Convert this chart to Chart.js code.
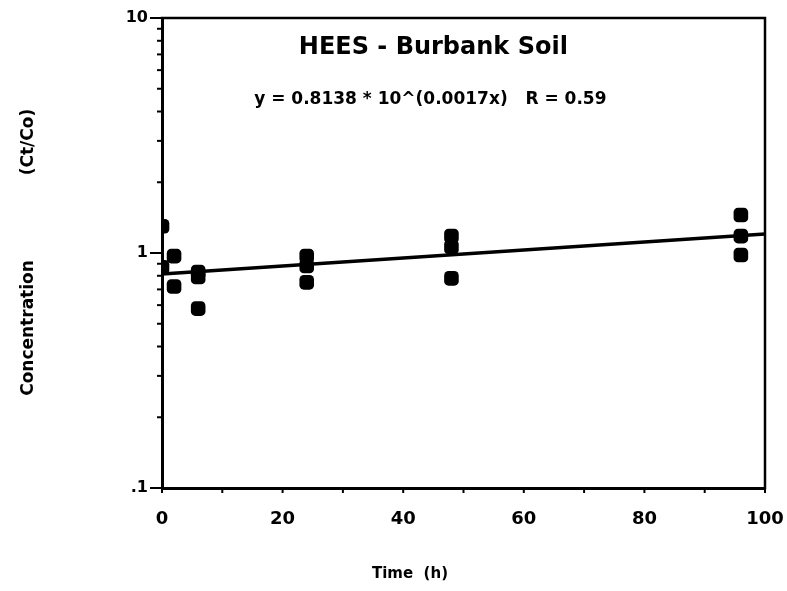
<!DOCTYPE html>
<html>
<head>
<meta charset="utf-8">
<script src="https://cdn.jsdelivr.net/npm/chart.js@4/dist/chart.umd.min.js"></script>
<style>
  html, body { margin: 0; padding: 0; background: #fff; }
  #wrap { width: 787px; height: 591px; }
</style>
</head>
<body>
<div id="wrap"><canvas id="c" width="787" height="591"></canvas></div>
<script>
// Sampling times (h) and measured relative concentrations Ct/Co
const timeHours = [0, 0, 2, 2, 6, 6, 6, 24, 24, 24, 48, 48, 48, 96, 96, 96];
const concRatio = [1.30, 0.87, 0.97, 0.72, 0.83, 0.79, 0.58, 0.97, 0.88, 0.75, 1.18, 1.06, 0.78, 1.45, 1.18, 0.98];

// Exponential fit y = a * 10^(b x)
const fitA = 0.8138;
const fitB = 0.0017;
const fitR = 0.59;
const fitRange = [0, 100];

// Axis tick values and labels
const yTickValues = [0.1, 0.2, 0.3, 0.4, 0.5, 0.6, 0.7, 0.8, 0.9, 1, 2, 3, 4, 5, 6, 7, 8, 9, 10];
const yTickLabels = { 0.1: '.1', 1: '1', 10: '10' };
const xLabelStep = 20;

const chartTitle = 'HEES - Burbank Soil';
const fitText = 'y = ' + fitA.toFixed(4) + ' * 10^(' + fitB.toFixed(4) + 'x)   R = ' + fitR.toFixed(2);
const xTitle = 'Time  (h)';
const yTitleMain = 'Concentration';
const yTitleUnit = '(Ct/Co)';

const FONT = '"DejaVu Sans", Verdana, sans-serif';

const measured = timeHours.map((t, i) => ({ x: t, y: concRatio[i] }));
const fitLine = fitRange.map(t => ({ x: t, y: fitA * Math.pow(10, fitB * t) }));

// Frame, tick marks, axis titles and in-plot annotation
const framePlugin = {
  id: 'frame',
  afterDraw(chart) {
    const { ctx, chartArea: a, scales } = chart;
    ctx.save();
    ctx.strokeStyle = '#000';
    ctx.lineCap = 'square';
    ctx.lineWidth = 2.5;
    ctx.beginPath();
    ctx.moveTo(a.left, a.top);
    ctx.lineTo(a.right, a.top);
    ctx.lineTo(a.right, a.bottom);
    ctx.stroke();

    ctx.lineWidth = 2;
    ctx.lineCap = 'butt';
    scales.y.ticks.forEach(t => {
      const py = scales.y.getPixelForValue(t.value);
      const major = yTickLabels[t.value] !== undefined;
      ctx.beginPath();
      ctx.moveTo(a.left - (major ? 12 : 5), py);
      ctx.lineTo(a.left, py);
      ctx.stroke();
    });
    scales.x.ticks.forEach(t => {
      const px = scales.x.getPixelForValue(t.value);
      ctx.beginPath();
      ctx.moveTo(px, a.bottom);
      ctx.lineTo(px, a.bottom + 5);
      ctx.stroke();
    });

    ctx.fillStyle = '#000';
    ctx.textAlign = 'center';
    ctx.textBaseline = 'middle';
    ctx.font = 'bold 24px ' + FONT;
    ctx.fillText(chartTitle, a.left + a.width * 0.45, a.top + 30);
    ctx.font = 'bold 17px ' + FONT;
    ctx.fillText(fitText, a.left + a.width * 0.445, a.top + 82);

    ctx.font = 'bold 15px ' + FONT;
    ctx.fillText(xTitle, 410, 574);

    ctx.save();
    ctx.translate(29, 0);
    ctx.rotate(-Math.PI / 2);
    ctx.font = 'bold 17px ' + FONT;
    ctx.fillText(yTitleMain, -328, 0);
    ctx.fillText(yTitleUnit, -142, 0);
    ctx.restore();
    ctx.restore();
  }
};

new Chart(document.getElementById('c'), {
  type: 'scatter',
  data: {
    datasets: [
      {
        label: 'measured',
        data: measured,
        showLine: false,
        pointStyle: 'rectRounded',
        pointRadius: 8.5,
        pointHoverRadius: 8.5,
        backgroundColor: '#000',
        borderColor: '#000',
        borderWidth: 0
      },
      {
        label: 'fit',
        data: fitLine,
        showLine: true,
        pointRadius: 0,
        borderColor: '#000',
        borderWidth: 3.5,
        fill: false
      }
    ]
  },
  options: {
    responsive: false,
    animation: false,
    events: [],
    layout: { padding: { left: 0, right: 22, top: 18, bottom: 0 } },
    plugins: {
      legend: { display: false },
      tooltip: { enabled: false }
    },
    scales: {
      x: {
        type: 'linear',
        min: 0,
        max: 100,
        grid: { display: true, drawOnChartArea: false, drawTicks: false },
        border: { display: true, color: '#000', width: 3 },
        ticks: {
          stepSize: 10,
          autoSkip: false,
          maxRotation: 0,
          padding: 21,
          color: '#000',
          font: { family: FONT, size: 18, weight: 'bold' },
          callback: v => (v % xLabelStep === 0 ? String(v) : '')
        },
        title: { display: false },
        afterFit(scale) {
          scale.height = 103;
          scale.paddingLeft = 0;
          scale.paddingRight = 0;
        }
      },
      y: {
        type: 'logarithmic',
        min: 0.1,
        max: 10,
        grid: { display: true, drawOnChartArea: false, drawTicks: false },
        border: { display: true, color: '#000', width: 3 },
        afterBuildTicks(scale) { scale.ticks = yTickValues.map(v => ({ value: v })); },
        ticks: {
          autoSkip: false,
          padding: 14,
          color: '#000',
          font: { family: FONT, size: 16, weight: 'bold' },
          callback: v => (yTickLabels[v] !== undefined ? yTickLabels[v] : '')
        },
        title: { display: false },
        afterFit(scale) {
          scale.width = 162;
          scale.paddingTop = 0;
          scale.paddingBottom = 0;
        }
      }
    }
  },
  plugins: [framePlugin]
});
</script>
</body>
</html>
